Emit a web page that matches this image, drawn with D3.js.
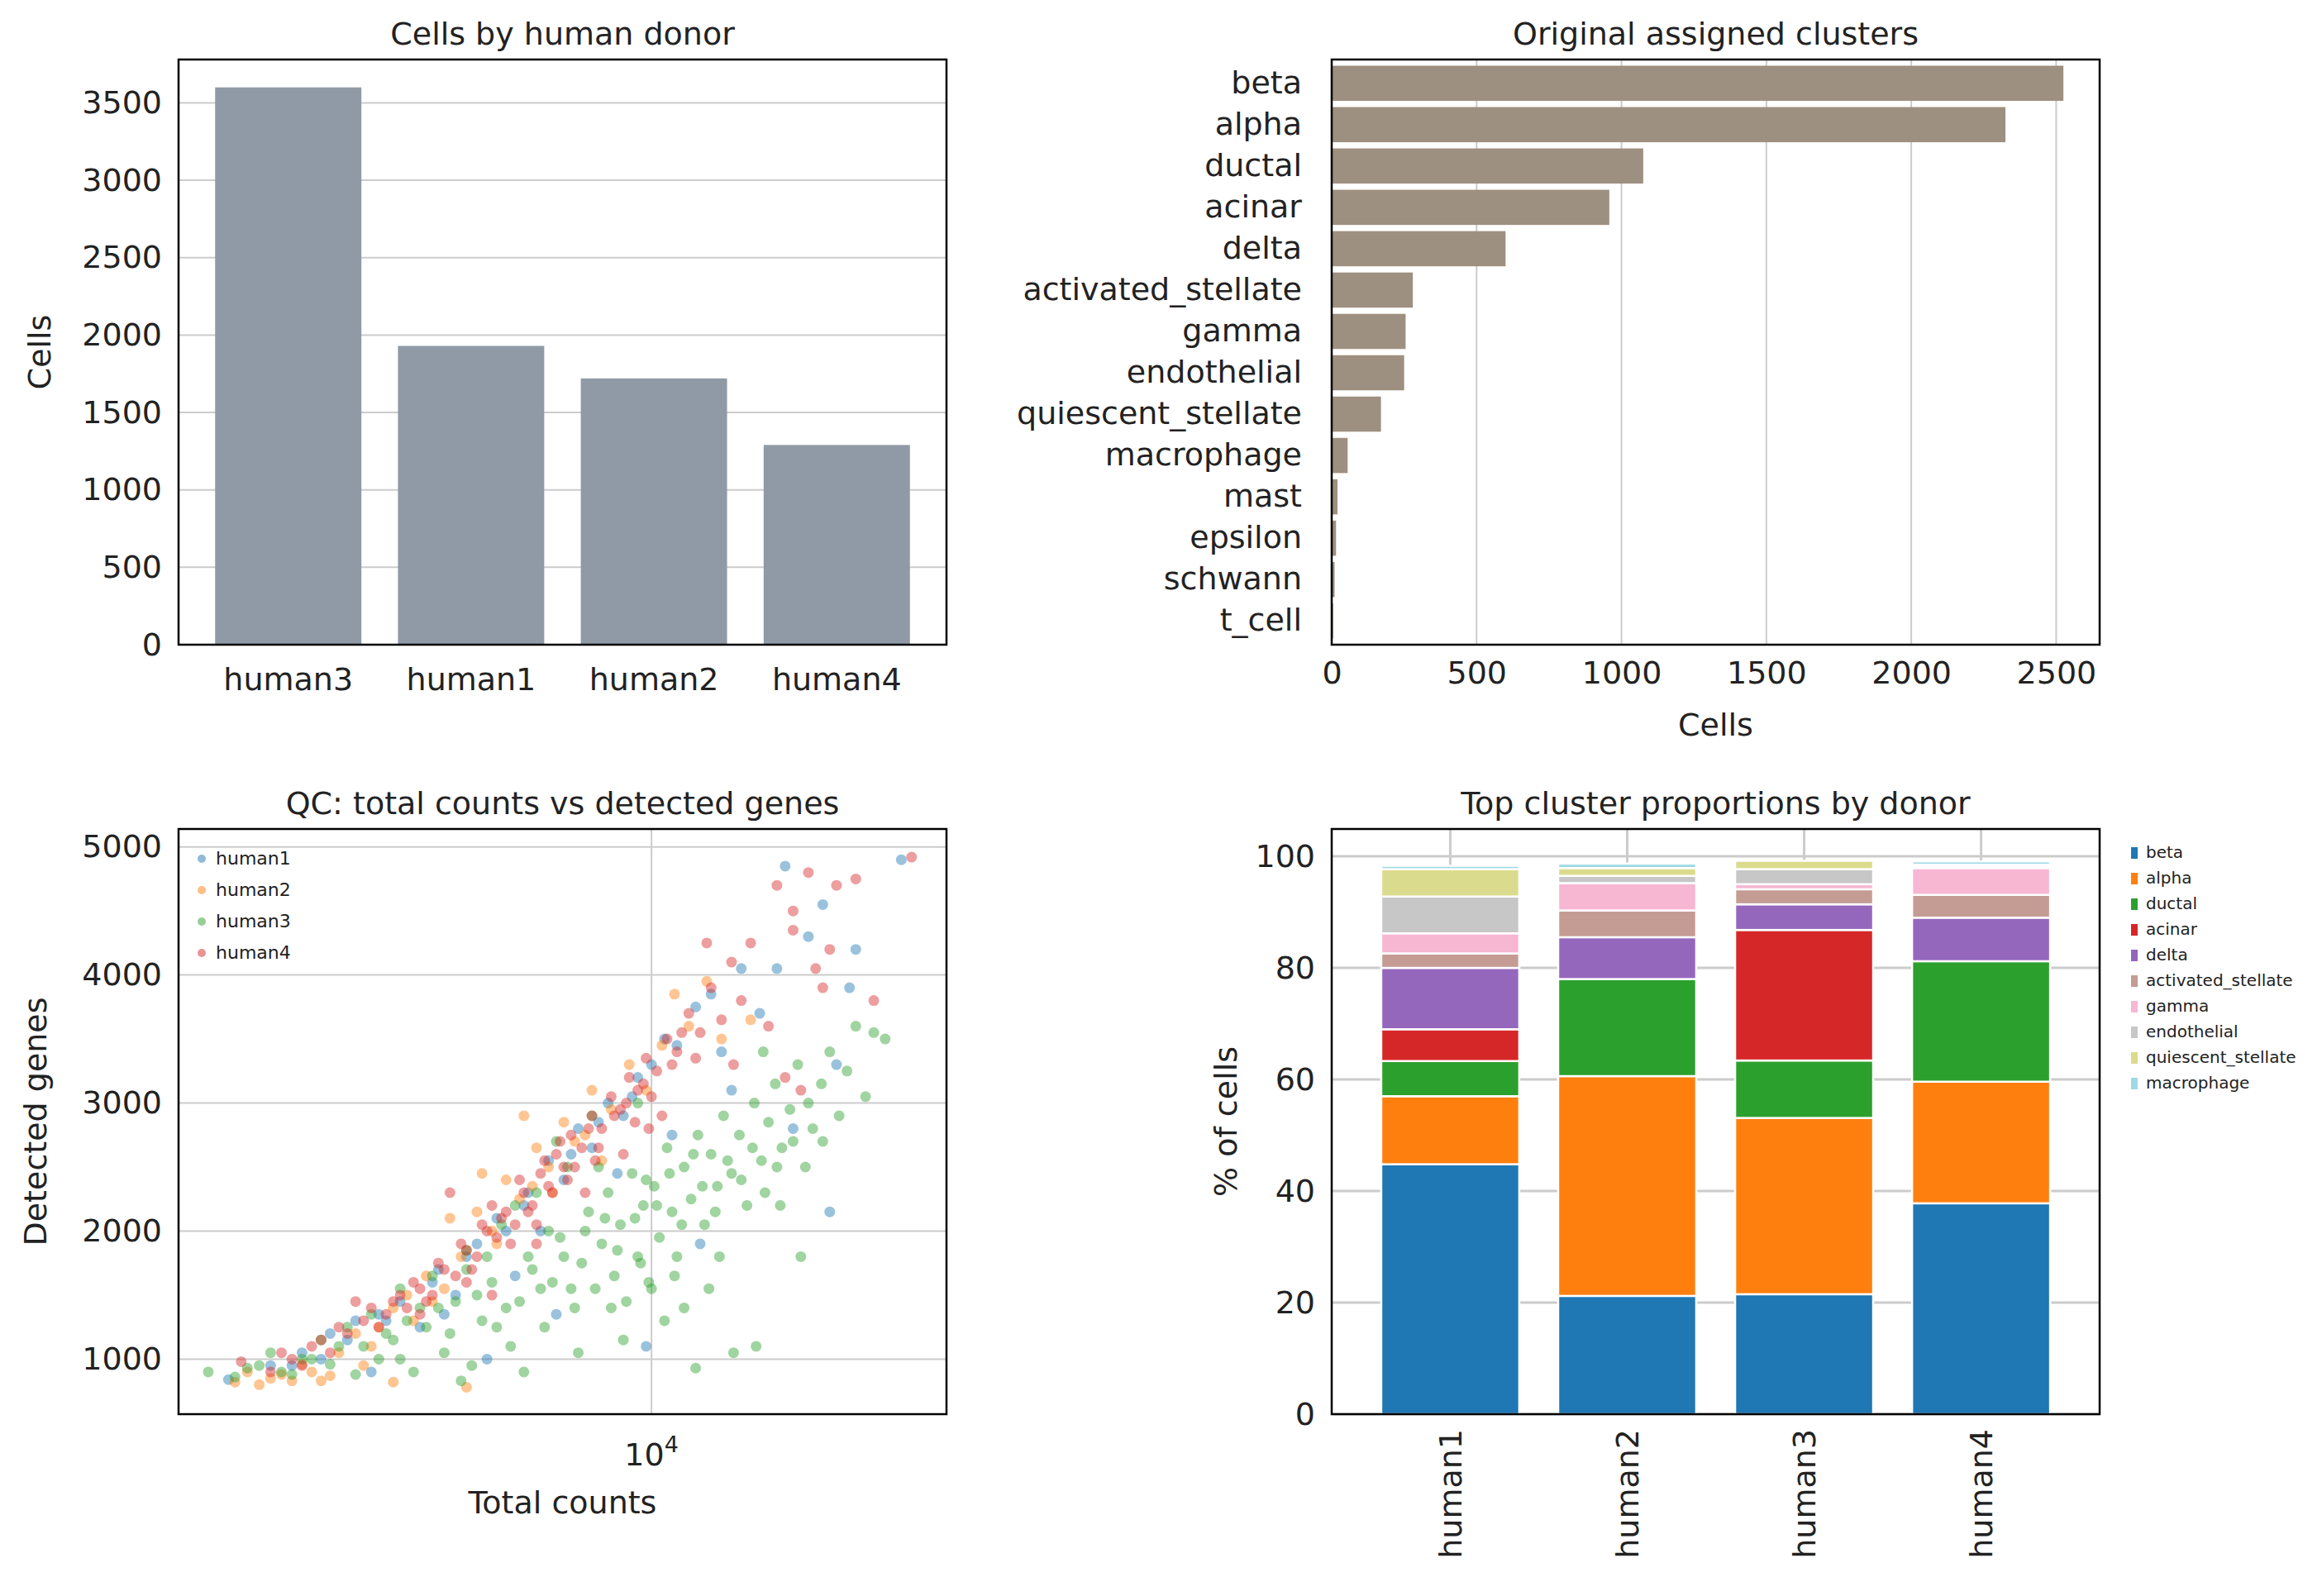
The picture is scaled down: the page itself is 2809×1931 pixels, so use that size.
<!DOCTYPE html>
<html><head><meta charset="utf-8">
<script src="https://cdn.jsdelivr.net/npm/d3@7"></script>
<style>body{margin:0;background:#fff}text{font-family:"DejaVu Sans",sans-serif}</style>
</head><body><svg width="2809" height="1931"></svg>
<script>
// donor totals
const donors = ['human3', 'human1', 'human2', 'human4'];
const donorCells = [3600, 1930, 1720, 1290];

// original clusters
const clusters = ['beta', 'alpha', 'ductal', 'acinar', 'delta', 'activated_stellate', 'gamma', 'endothelial',
  'quiescent_stellate', 'macrophage', 'mast', 'epsilon', 'schwann', 't_cell'];
const clusterCells = [2525, 2325, 1075, 958, 600, 280, 255, 250, 170, 55, 20, 15, 10, 5];

// stacked proportions (% of cells), one array per cluster, donors human1..human4
const stackDonors = ['human1', 'human2', 'human3', 'human4'];
const stackKeys = ['beta', 'alpha', 'ductal', 'acinar', 'delta', 'activated_stellate', 'gamma', 'endothelial', 'quiescent_stellate', 'macrophage'];
const pBeta = [44.8, 21.2, 21.5, 37.8];
const pAlpha = [12.2, 39.4, 31.6, 21.8];
const pDuctal = [6.3, 17.4, 10.3, 21.6];
const pAcinar = [5.7, 0, 23.4, 0];
const pDelta = [11.0, 7.5, 4.6, 7.8];
const pActStel = [2.6, 4.8, 2.7, 4.1];
const pGamma = [3.6, 4.9, 0.9, 4.8];
const pEndo = [6.6, 1.3, 2.7, 0.3];
const pQuiStel = [4.9, 1.4, 1.5, 0.3];
const pMacro = [0.6, 0.8, 0, 0.6];
const stackColors = ['#1f77b4', '#ff7f0e', '#2ca02c', '#d62728', '#9467bd', '#c49c94', '#f7b6d2', '#c7c7c7', '#dbdb8d', '#9edae5'];

// QC scatter: [total counts, detected genes] sampled by eye
const qcHuman1 = [[2050,840],[2400,950],[2700,1050],[3000,1200],[3300,1300],[3600,1350],[3900,1450],[4200,1250],[4500,1700],[4800,1500],
  [5200,1900],[5600,2100],[6000,1650],[6300,2300],[6800,2550],[7200,2400],[7600,2800],[8000,2650],[8500,3000],[9000,2900],
  [9500,3200],[10000,3300],[10500,3500],[11000,3450],[11800,3750],[12500,3850],[13000,3400],[14000,4050],[15000,3700],[16000,4050],
  [16500,4850],[18000,4300],[19000,4550],[21000,3900],[21500,4200],[25500,4900],[20000,3300],[19500,2150],[17000,2800],[12000,1900],
  [7000,1350],[5400,1000],[3500,900],[2900,1000],[4600,1350],[6600,2000],[8800,2450],[10800,2750],[13500,3100],[9800,1100],
  [2600,950],[3200,1150],[3700,1300],[4400,1600],[5000,1800],[5800,2000],[6200,2200],[7400,2600],[8200,2850],[9300,3050]];
const qcHuman2 = [[2100,820],[2300,800],[2500,880],[2700,960],[2900,830],[3100,1050],[3300,1200],[3500,1100],[3800,1400],[4100,1300],
  [4300,1650],[4600,1550],[4900,1800],[5200,2150],[5500,2000],[5800,2400],[6100,2250],[6500,2650],[6800,2500],[7200,2850],
  [7500,2700],[8000,3100],[8600,2950],[9200,3300],[9800,3100],[10400,3450],[10900,3850],[11500,3600],[12300,3950],[13000,3500],
  [14500,3650],[4700,2100],[5300,2450],[6200,2900],[3800,820],[3000,870],[5000,780],[4400,1450],[6900,2300],[8300,2550],
  [2200,900],[2400,850],[2600,830],[2800,900],[3400,950],[3600,1250],[4000,1500],[5600,1900],[6400,2350],[7800,2750]];
const qcHuman3 = [[1900,900],[2100,860],[2300,950],[2400,1050],[2600,880],[2700,1000],[2900,1150],[3000,960],[3200,1250],[3300,880],
  [3500,1350],[3600,1000],[3800,1150],[3900,1550],[4100,900],[4300,1250],[4400,1650],[4600,1050],[4800,1450],[5000,1850],
  [5100,950],[5300,1300],[5500,1600],[5700,2050],[5900,1100],[6100,1450],[6300,1800],[6500,2300],[6700,1250],[6900,1600],
  [7100,1950],[7300,2500],[7500,1400],[7700,1750],[7900,2150],[8100,1550],[8300,1900],[8500,2300],[8700,1650],[8900,2050],
  [9100,1450],[9300,2450],[9500,1800],[9700,2200],[9900,1600],[10100,2350],[10300,1950],[10600,2650],[10800,2150],[11000,1800],
  [11300,2500],[11600,2250],[11900,2750],[12200,2050],[12500,2600],[12800,2350],[13100,2900],[13500,2450],[13900,2750],[14300,2200],
  [14700,3000],[15100,2550],[15500,2850],[15900,3150],[16300,2650],[16800,2950],[17300,3300],[17800,2500],[18300,2800],[18900,3150],
  [19500,3400],[20200,2900],[20800,3250],[21500,3600],[22300,3050],[23000,3550],[24000,3500],[14800,1100],[13600,1050],[11800,930],
  [12400,1550],[10500,1300],[7600,1050],[6200,900],[4900,830],[6000,2200],[5000,1700],[4200,1400],[3400,1100],[8200,2500],
  [16200,2200],[17500,1800],[9000,1150],[10000,1550],[11300,1400],[19000,2700],[15200,3400],[7000,2700],[8000,2900],[9500,3000],
  [2200,930],[2500,900],[2800,1000],[3100,1100],[3700,1200],[4000,1300],[4500,1400],[4700,1200],[5200,1500],[5400,1800],
  [5800,1400],[6400,1700],[6800,2000],[7200,1800],[7800,2000],[8400,2100],[8800,1850],[9400,2100],[9800,2400],[10200,2200],
  [10700,2450],[11200,2050],[11700,2600],[12100,2350],[12700,2150],[13300,2550],[14000,2400],[14600,2650],[15300,2300],[16000,2500],
  [17000,2700],[18000,3000],[3900,1000],[5600,1250],[7400,1550],[8600,1400],[9600,1750],[10900,1650],[12900,1800],[6600,1550]];
const qcHuman4 = [[2150,980],[2400,900],[2600,1000],[2800,1100],[3000,1050],[3200,1200],[3400,1300],[3600,1250],[3800,1450],[4000,1400],
  [4200,1550],[4400,1500],[4600,1700],[4800,1650],[5000,1850],[5200,1800],[5400,2000],[5600,1950],[5800,2150],[6000,2050],
  [6200,2300],[6400,2200],[6600,2450],[6800,2350],[7000,2600],[7200,2500],[7400,2750],[7700,2650],[8000,2900],[8300,2800],
  [8600,3050],[8900,2950],[9200,3200],[9500,3100],[9800,3350],[10200,3250],[10600,3500],[11000,3400],[11500,3700],[12000,3550],
  [12500,3900],[13000,3650],[13500,4100],[14000,3800],[14500,4250],[15500,3600],[16000,4700],[17000,4500],[18000,4800],[18500,4050],
  [19500,4200],[20000,4700],[12300,4250],[16500,3200],[17500,3100],[21500,4750],[23000,3800],[26500,4920],[19000,3900],[17000,4350],
  [4700,2300],[5500,1500],[6500,1900],[3300,1450],[7800,2300],[9000,2600],[10400,2900],[13600,3300],
  [2500,1050],[2700,950],[2900,1150],[3100,1250],[3500,1400],[3700,1350],[3900,1500],[4100,1600],[4300,1450],[4500,1750],
  [4900,1900],[5100,1700],[5300,2050],[5700,2100],[5900,1900],[6100,2400],[6300,2150],[6700,2550],[6900,2300],[7100,2700],
  [7500,2500],[7900,2800],[8200,2650],[8700,2900],[9100,3000],[9400,2850],[9700,3150],[10000,3050],[10800,3300],[11200,3550],
  [4200,1350],[5000,1600],[5500,2200],[6500,2050],[7300,2400],[8100,2550],[9900,2800],[11800,3350]];
const qcData = [qcHuman1, qcHuman2, qcHuman3, qcHuman4];
const qcNames = ['human1', 'human2', 'human3', 'human4'];
const qcColors = ['#1f77b4', '#ff7f0e', '#2ca02c', '#d62728'];

const svg = d3.select('svg');
const GRID = '#cccccc';
const TICK = 38, TITLE = 38, LAB = 38;
const fmt = d3.format('d');

function frame(g, w, h, title) {
  g.append('text').attr('x', w / 2).attr('y', -18).attr('text-anchor', 'middle')
    .style('font-size', TITLE + 'px').attr('fill', '#222').text(title);
}
function border(g, w, h) {
  g.append('rect').attr('width', w).attr('height', h).attr('fill', 'none').attr('stroke', '#000').attr('stroke-width', 2.5);
}
function styleAxis(a) {
  a.select('.domain').remove();
  a.selectAll('line').remove();
  a.selectAll('text').style('font-size', TICK + 'px').attr('fill', '#222');
}

// ---- panel 1: cells by donor
{
  const x0 = 216, y0 = 72, w = 929, h = 708;
  const g = svg.append('g').attr('transform', `translate(${x0},${y0})`);
  const x = d3.scaleBand().domain(donors).range([0, w]).padding(0.2);
  const y = d3.scaleLinear().domain([0, 3780]).range([h, 0]);
  const ticks = [0, 500, 1000, 1500, 2000, 2500, 3000, 3500];
  g.selectAll('.gl').data(ticks).enter().append('line').attr('x1', 0).attr('x2', w)
    .attr('y1', d => y(d)).attr('y2', d => y(d)).attr('stroke', GRID).attr('stroke-width', 2);
  g.selectAll('.bar').data(donors).enter().append('rect')
    .attr('x', d => x(d)).attr('width', x.bandwidth())
    .attr('y', (d, i) => y(donorCells[i])).attr('height', (d, i) => h - y(donorCells[i])).attr('fill', '#8f9aa6');
  styleAxis(g.append('g').attr('transform', `translate(0,${h})`).call(d3.axisBottom(x).tickSizeOuter(0).tickPadding(22)));
  styleAxis(g.append('g').call(d3.axisLeft(y).tickValues(ticks).tickFormat(fmt).tickPadding(14)));
  g.append('text').attr('transform', `translate(-155,${h / 2}) rotate(-90)`).attr('text-anchor', 'middle')
    .style('font-size', LAB + 'px').attr('fill', '#222').text('Cells');
  border(g, w, h);
  frame(g, w, h, 'Cells by human donor');
}

// ---- panel 2: original clusters
{
  const x0 = 1611, y0 = 72, w = 929, h = 708;
  const g = svg.append('g').attr('transform', `translate(${x0},${y0})`);
  const y = d3.scaleBand().domain(clusters).range([0, h]).padding(0.15);
  const x = d3.scaleLinear().domain([0, 2650]).range([0, w]);
  const ticks = [0, 500, 1000, 1500, 2000, 2500];
  g.selectAll('.gl').data(ticks).enter().append('line').attr('y1', 0).attr('y2', h)
    .attr('x1', d => x(d)).attr('x2', d => x(d)).attr('stroke', GRID).attr('stroke-width', 2);
  g.selectAll('.bar').data(clusters).enter().append('rect')
    .attr('y', d => y(d)).attr('height', y.bandwidth()).attr('x', 0)
    .attr('width', (d, i) => x(clusterCells[i])).attr('fill', '#9e9080');
  styleAxis(g.append('g').call(d3.axisLeft(y).tickPadding(30)));
  styleAxis(g.append('g').attr('transform', `translate(0,${h})`).call(d3.axisBottom(x).tickValues(ticks).tickFormat(fmt).tickPadding(14)));
  g.append('text').attr('x', w / 2).attr('y', h + 110).attr('text-anchor', 'middle')
    .style('font-size', LAB + 'px').attr('fill', '#222').text('Cells');
  border(g, w, h);
  frame(g, w, h, 'Original assigned clusters');
}

// ---- panel 3: QC scatter
{
  const x0 = 216, y0 = 1003, w = 929, h = 708;
  const g = svg.append('g').attr('transform', `translate(${x0},${y0})`);
  const x = d3.scaleLog().domain([1700, 30200]).range([0, w]);
  const y = d3.scaleLinear().domain([570, 5140]).range([h, 0]);
  const yt = [1000, 2000, 3000, 4000, 5000];
  g.selectAll('.gy').data(yt).enter().append('line').attr('x1', 0).attr('x2', w)
    .attr('y1', d => y(d)).attr('y2', d => y(d)).attr('stroke', GRID).attr('stroke-width', 2);
  g.append('line').attr('x1', x(1e4)).attr('x2', x(1e4)).attr('y1', 0).attr('y2', h).attr('stroke', GRID).attr('stroke-width', 2);
  qcData.forEach((pts, k) => {
    g.append('g').selectAll('circle').data(pts).enter().append('circle')
      .attr('cx', d => x(d[0])).attr('cy', d => y(d[1])).attr('r', 6.5)
      .attr('fill', qcColors[k]).attr('fill-opacity', 0.45);
  });
  styleAxis(g.append('g').call(d3.axisLeft(y).tickValues(yt).tickFormat(fmt).tickPadding(14)));
  const xt = g.append('text').attr('x', x(1e4)).attr('y', h + 62).attr('text-anchor', 'middle')
    .style('font-size', TICK + 'px').attr('fill', '#222');
  xt.append('tspan').text('10');
  xt.append('tspan').attr('dy', -16).style('font-size', '27px').text('4');
  g.append('text').attr('x', w / 2).attr('y', h + 120).attr('text-anchor', 'middle')
    .style('font-size', LAB + 'px').attr('fill', '#222').text('Total counts');
  g.append('text').attr('transform', `translate(-160,${h / 2}) rotate(-90)`).attr('text-anchor', 'middle')
    .style('font-size', LAB + 'px').attr('fill', '#222').text('Detected genes');
  qcNames.forEach((n, k) => {
    g.append('circle').attr('cx', 28).attr('cy', 36 + k * 38).attr('r', 5).attr('fill', qcColors[k]).attr('fill-opacity', 0.5);
    g.append('text').attr('x', 45).attr('y', 43 + k * 38).style('font-size', '22px').attr('fill', '#222').text(n);
  });
  border(g, w, h);
  frame(g, w, h, 'QC: total counts vs detected genes');
}

// ---- panel 4: stacked proportions
{
  const x0 = 1611, y0 = 1003, w = 929, h = 708;
  const g = svg.append('g').attr('transform', `translate(${x0},${y0})`);
  const x = d3.scaleBand().domain(stackDonors).range([0, w]).paddingInner(0.22).paddingOuter(0.28);
  const y = d3.scaleLinear().domain([0, 104.9]).range([h, 0]);
  const yt = [0, 20, 40, 60, 80, 100];
  g.selectAll('.gy').data(yt).enter().append('line').attr('x1', 0).attr('x2', w)
    .attr('y1', d => y(d)).attr('y2', d => y(d)).attr('stroke', GRID).attr('stroke-width', 3);
  g.selectAll('.gx').data(stackDonors).enter().append('line').attr('y1', 0).attr('y2', h)
    .attr('x1', d => x(d) + x.bandwidth() / 2).attr('x2', d => x(d) + x.bandwidth() / 2).attr('stroke', GRID).attr('stroke-width', 3);
  const vals = [pBeta, pAlpha, pDuctal, pAcinar, pDelta, pActStel, pGamma, pEndo, pQuiStel, pMacro];
  const rows = stackDonors.map((d, i) => {
    const o = { donor: d };
    stackKeys.forEach((k, j) => { o[k] = vals[j][i]; });
    return o;
  });
  const series = d3.stack().keys(stackKeys)(rows);
  series.forEach((s, j) => {
    g.append('g').selectAll('rect').data(s.filter(d => d[1] - d[0] > 0)).enter().append('rect')
      .attr('x', d => x(d.data.donor)).attr('width', x.bandwidth())
      .attr('y', d => y(d[1])).attr('height', d => y(d[0]) - y(d[1]))
      .attr('fill', stackColors[j]).attr('stroke', '#fff').attr('stroke-width', 2.5);
  });
  styleAxis(g.append('g').call(d3.axisLeft(y).tickValues(yt).tickPadding(14)));
  const xa = g.append('g').attr('transform', `translate(0,${h})`).call(d3.axisBottom(x));
  styleAxis(xa);
  xa.selectAll('text').attr('transform', 'rotate(-90)').attr('text-anchor', 'end')
    .attr('x', -18).attr('y', 0).attr('dy', '0.35em');
  g.append('text').attr('transform', `translate(-115,${h / 2}) rotate(-90)`).attr('text-anchor', 'middle')
    .style('font-size', LAB + 'px').attr('fill', '#222').text('% of cells');
  stackKeys.forEach((k, j) => {
    g.append('rect').attr('x', w + 38).attr('y', 22 + j * 31).attr('width', 8).attr('height', 14).attr('fill', stackColors[j]);
    g.append('text').attr('x', w + 56).attr('y', 35 + j * 31).style('font-size', '20px').attr('fill', '#222').text(k);
  });
  border(g, w, h);
  frame(g, w, h, 'Top cluster proportions by donor');
}
</script></body></html>
